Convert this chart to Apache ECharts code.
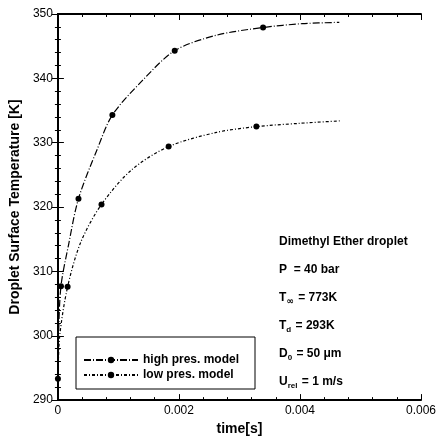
<!DOCTYPE html>
<html>
<head>
<meta charset="utf-8">
<script src="https://cdn.jsdelivr.net/npm/echarts@6/dist/echarts.min.js"></script>
<style>
  html, body { margin: 0; padding: 0; background: #fff; }
  #chart { width: 439px; height: 441px; }
</style>
</head>
<body>
<div id="chart"></div>
<script>
// Droplet surface temperature history, dimethyl ether droplet
const seriesNames = ['high pres. model', 'low pres. model'];

// time [s] and surface temperature [K], high-pressure model
const timeHigh = [0, 0.00001, 0.00005, 0.000175, 0.00034, 0.00065, 0.0009, 0.00139, 0.00193, 0.00262, 0.00339, 0.00404, 0.00465];
const tempHigh = [293.3, 300.0, 307.7, 314.1, 321.3, 329.0, 334.3, 339.6, 344.3, 346.7, 347.9, 348.5, 348.7];
const markHigh = [true, false, true, false, true, false, true, false, true, false, true, false, false];

// time [s] and surface temperature [K], low-pressure model
const timeLow = [0, 0.00003, 0.00016, 0.00038, 0.00072, 0.00122, 0.00183, 0.00262, 0.00328, 0.00398, 0.00468];
const tempLow = [293.3, 300.0, 307.6, 314.6, 320.4, 325.8, 329.4, 331.6, 332.5, 333.0, 333.4];
const markLow = [false, false, true, false, true, false, true, false, true, false, false];

const xTicks = { min: 0, max: 0.006, interval: 0.002 };
const yTicks = { min: 290, max: 350, interval: 10 };

// case description printed inside the plot
const caseLines = [
  'Dimethyl Ether droplet',
  'P  = 40 bar',
  '{t|T}{inf|∞} = 773K',
  '{t|T}{s|d} = 293K',
  '{t|D}{s|0} = 50 μm',
  '{t|U}{s|rel} = 1 m/s'
];

function buildData(t, v, marks) {
  return t.map((x, i) => ({ value: [x, v[i]], symbolSize: marks[i] ? 6 : 0 }));
}

const font = '"Liberation Sans", Arial, sans-serif';

const baseAxis = {
  axisLine: { show: true, lineStyle: { color: '#000', width: 2 } },
  axisTick: { show: true, inside: true, length: 6, lineStyle: { color: '#000', width: 1 } },
  minorTick: { show: true, splitNumber: 5, length: 3, lineStyle: { color: '#000', width: 1 } },
  splitLine: { show: false },
  minorSplitLine: { show: false }
};

const textItems = caseLines.map((line, i) => ({
  type: 'text', left: 279, top: 236 + i * 28,
  style: {
    text: line,
    fontFamily: font, fontWeight: 'bold', fontSize: 12, fill: '#000',
    rich: {
      t: { fontFamily: font, fontWeight: 'bold', fontSize: 12, fill: '#000' },
      s: { fontFamily: font, fontWeight: 'bold', fontSize: 8, fill: '#000', padding: [7, 1, 0, 0] },
      inf: { fontFamily: '"DejaVu Sans", sans-serif', fontWeight: 'bold', fontSize: 9, fill: '#000', padding: [7, 1, 0, 0] }
    }
  },
  z: 10
}));

const chart = echarts.init(document.getElementById('chart'));
chart.setOption({
  backgroundColor: '#fff',
  animation: false,
  grid: { left: 57, top: 14, right: 16, bottom: 38 },
  xAxis: [
    Object.assign({}, baseAxis, {
      type: 'value', position: 'bottom',
      min: xTicks.min, max: xTicks.max, interval: xTicks.interval,
      name: 'time[s]', nameLocation: 'middle', nameGap: 20,
      nameTextStyle: { fontFamily: font, fontWeight: 'bold', fontSize: 14, color: '#000' },
      axisLabel: {
        fontFamily: font, fontSize: 12, color: '#000', margin: 5,
        formatter: v => (v === 0 ? '0' : v.toFixed(3))
      }
    }),
    Object.assign({}, baseAxis, {
      type: 'value', position: 'top',
      min: xTicks.min, max: xTicks.max, interval: xTicks.interval,
      axisLabel: { show: false }
    })
  ],
  yAxis: [
    Object.assign({}, baseAxis, {
      type: 'value', position: 'left',
      min: yTicks.min, max: yTicks.max, interval: yTicks.interval,
      name: 'Droplet Surface Temperature [K]', nameLocation: 'middle', nameGap: 35,
      nameTextStyle: { fontFamily: font, fontWeight: 'bold', fontSize: 14, color: '#000' },
      axisLabel: { fontFamily: font, fontSize: 12, color: '#000', margin: 5 }
    }),
    Object.assign({}, baseAxis, {
      type: 'value', position: 'right',
      min: yTicks.min, max: yTicks.max, interval: yTicks.interval,
      axisLabel: { show: false }
    })
  ],
  legend: {
    orient: 'vertical',
    left: 76, top: 337,
    padding: [17, 16, 8, 7],
    itemWidth: 54, itemHeight: 8, itemGap: 3,
    borderColor: '#000', borderWidth: 1,
    backgroundColor: '#fff',
    textStyle: { fontFamily: font, fontWeight: 'bold', fontSize: 12, color: '#000' },
    data: seriesNames
  },
  series: [
    {
      name: seriesNames[0], type: 'line',
      data: buildData(timeHigh, tempHigh, markHigh),
      smooth: 0.3,
      symbol: 'circle', showAllSymbol: true,
      itemStyle: { color: '#000' },
      lineStyle: { color: '#000', width: 1.2, type: [7, 2, 1, 2] },
      z: 3
    },
    {
      name: seriesNames[1], type: 'line',
      data: buildData(timeLow, tempLow, markLow),
      smooth: 0.3,
      symbol: 'circle', showAllSymbol: true,
      itemStyle: { color: '#000' },
      lineStyle: { color: '#000', width: 1.2, type: [3, 2, 1, 2] },
      z: 3
    }
  ],
  graphic: textItems
});
</script>
</body>
</html>
